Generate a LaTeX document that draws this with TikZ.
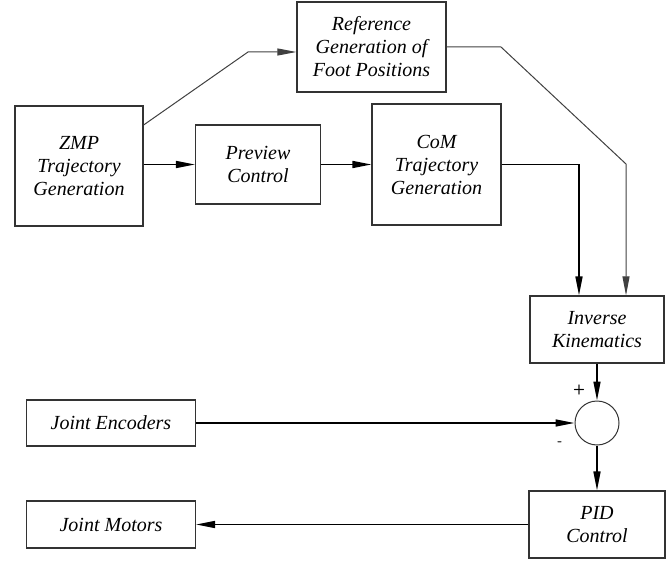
\documentclass[tikz,border=0pt]{standalone}
\usepackage{fontspec}
\setmainfont{Liberation Serif}
\usepackage{tikz}
\usetikzlibrary{arrows.meta, positioning, shapes.geometric}

\begin{document}
\begin{tikzpicture}[
    x=1pt, y=-1pt,
    block/.style={rectangle, draw=black!80, line width=1.2pt, align=center, fill=white,
        font=\itshape\fontsize{20}{23}\selectfont},
    sumnode/.style={circle, draw=black!80, line width=1pt, minimum size=44pt, inner sep=0pt},
    sign/.style={font=\sffamily\bfseries\fontsize{14}{14}\selectfont, inner sep=0pt},
    arrow/.style={-{Triangle[length=19pt, width=7pt]}, line width=1.6pt},
    thinarrow/.style={-{Triangle[length=19pt, width=7pt]}, line width=1pt, draw=black!75}
]
    \useasboundingbox (0,0) rectangle (668,561);

    % Trajectory planning
    \node[block, minimum width=149pt, minimum height=90pt] (ref) at (371.5,47) {Reference\\Generation of\\Foot Positions};
    \node[block, minimum width=128pt, minimum height=120pt] (zmp) at (79,166) {ZMP\\Trajectory\\Generation};
    \node[block, minimum width=125pt, minimum height=79pt] (preview) at (258,164.5) {Preview\\Control};
    \node[block, minimum width=129pt, minimum height=121pt] (com) at (436.5,164.5) {CoM\\Trajectory\\Generation};

    % Joint control
    \node[block, minimum width=134pt, minimum height=67pt] (ik) at (597,329.5) {Inverse\\Kinematics};
    \node[sumnode] (sum) at (597,423) {};
    \node[block, minimum width=169pt, minimum height=46pt] (enc) at (111,423) {Joint Encoders};
    \node[block, minimum width=136pt, minimum height=67pt] (pid) at (597,524.5) {PID\\Control};
    \node[block, minimum width=169pt, minimum height=47pt] (mot) at (111,524.5) {Joint Motors};
    \node[sign] (plus) at (579,390) {+};
    \node[sign] (minus) at (560,444) {-};

    % Bends
    \coordinate (up) at (248,52);
    \coordinate (outa) at (501,47);
    \coordinate (outb) at (626,164);

    % Connections
    \draw[thinarrow] ([yshift=41pt]zmp.east) -- (up) -- (up -| ref.west);
    \draw[arrow] (zmp.east |- preview.west) -- (preview.west);
    \draw[arrow] (preview.east) -- (com.west |- preview.east);
    \draw[arrow] (com.east) -| ([xshift=-18pt]ik.north);
    \draw[thinarrow] (ref.east) -- (outa) -- (outb) -- (outb |- ik.north);
    \draw[arrow] (ik.south) -- (sum.north);
    \draw[arrow] (enc.east) -- (sum.west);
    \draw[arrow] (sum.south) -- (pid.north);
    \draw[arrow] (pid.west) -- (mot.east |- pid.west);

\end{tikzpicture}
\end{document}
